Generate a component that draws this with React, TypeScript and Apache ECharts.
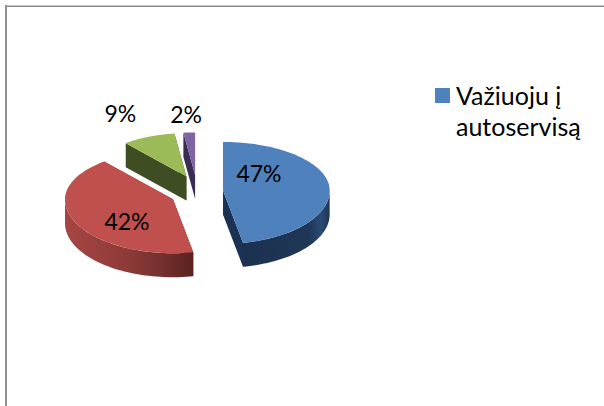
import React, { useEffect, useRef } from "react";
import * as echarts from "echarts";

const sliceValues = [47, 42, 9, 2];
const legendLines = ["Važiuoju į", "autoservisą"];

const topColors = ["#4F81BD", "#C0504D", "#9BBB59", "#8064A2"];
const cutColors = ["#1C3252", "#6B2B29", "#3F4D22", "#3A2C55"];
const wallStops = [
  ["#1E3554", "#2B4B75", "#203858", "#1E3452", "#1C3150"],
  ["#A64644", "#99403D", "#8C3A38", "#74302D", "#5A2220"],
  ["#3F4D22", "#3F4D22", "#3F4D22", "#3F4D22", "#3F4D22"],
  ["#3A2C55", "#3A2C55", "#3A2C55", "#3A2C55", "#3A2C55"],
];
// label offset from each slice's apex, in pixels
const labelOffsets = [
  [36, -17],
  [-46, 22],
  [-66, -63],
  [-9, -61],
];

const FONT = "Lato, Carlito, sans-serif";
const CENTER = [196.8, 192];
const EXPLODE = [26.3, 17];
const RX = 108;
const RY_BACK = 49;
const RY_FRONT = 54;
const DEPTH = 24;
const REAR_SHRINK = 0.13;

const total = sliceValues.reduce((a, b) => a + b, 0);

function renderSlice(params: any, api: any) {
  const i = params.dataIndex;
  const value = api.value(0);
  const before = sliceValues.slice(0, i).reduce((a, b) => a + b, 0);
  const a0 = (before / total) * 360;
  const a1 = a0 + (value / total) * 360;
  const mid = (((a0 + a1) / 2) * Math.PI) / 180;
  const ax = CENTER[0] + EXPLODE[0] * Math.sin(mid);
  const ay = CENTER[1] - EXPLODE[1] * Math.cos(mid);
  const s = 1 - REAR_SHRINK * Math.max(0, Math.cos(mid));
  const pt = (deg: number, down = 0) => {
    const t = (deg * Math.PI) / 180;
    const c = Math.cos(t);
    return [ax + RX * s * Math.sin(t), ay - (c > 0 ? RY_BACK : RY_FRONT) * s * c + down];
  };
  const arc = (from: number, to: number, down = 0) => {
    const out: number[][] = [];
    const n = Math.max(2, Math.ceil(Math.abs(to - from) / 2));
    for (let k = 0; k <= n; k++) out.push(pt(from + ((to - from) * k) / n, down));
    return out;
  };
  const base = (100 - i) * 10;
  const children: any[] = [];
  const edge = (deg: number) => {
    const r = pt(deg);
    children.push({
      type: "polygon",
      z2: base,
      shape: { points: [[ax, ay], r, [r[0], r[1] + DEPTH], [ax, ay + DEPTH]] },
      style: { fill: cutColors[i] },
    });
  };
  edge(a0);
  edge(a1);
  const w0 = Math.max(a0, 90);
  const w1 = Math.min(a1, 270);
  if (w1 > w0) {
    const top = arc(w0, w1);
    const bottom = arc(w1, w0, DEPTH);
    const stops = wallStops[i];
    const leftToRight = stops.map((c: string, k: number) => ({ offset: k / (stops.length - 1), color: c }));
    const colorStops =
      i === 0
        ? [
            { offset: 0, color: "#1C3150" },
            { offset: 0.75, color: "#1F3656" },
            { offset: 0.9, color: "#2B4B75" },
            { offset: 1, color: "#1E3554" },
          ]
        : leftToRight;
    children.push({
      type: "polygon",
      z2: base + 1,
      shape: { points: top.concat(bottom) },
      style: { fill: new echarts.graphic.LinearGradient(0, 0, 1, 0, colorStops) },
    });
  }
  children.push({
    type: "polygon",
    z2: base + 2,
    shape: { points: [[ax, ay]].concat(arc(a0, a1)) },
    style: { fill: topColors[i] },
  });
  const off = labelOffsets[i];
  children.push({
    type: "text",
    z2: 5000,
    style: {
      text: Math.round((value / total) * 100) + "%",
      x: ax + off[0],
      y: ay + off[1],
      fill: "#000",
      font: "23px " + FONT,
      textAlign: "center",
      textVerticalAlign: "middle",
    },
  });
  return { type: "group", children };
}

export default function App() {
  const ref = useRef<HTMLDivElement>(null);
  useEffect(() => {
    const chart = echarts.init(ref.current!, undefined, { renderer: "svg" });
    chart.setOption({
      animation: false,
      backgroundColor: "#fff",
      series: [
        {
          type: "custom",
          coordinateSystem: "none",
          silent: true,
          renderItem: renderSlice,
          data: sliceValues.map((v) => [v]),
        },
      ],
      graphic: [
        { type: "rect", shape: { x: 5, y: 5, width: 599, height: 1 }, style: { fill: "#c4c4c4" } },
        { type: "rect", shape: { x: 5, y: 6, width: 599, height: 1 }, style: { fill: "#8a8a8a" } },
        { type: "rect", shape: { x: 5, y: 5, width: 2, height: 401 }, style: { fill: "#8f8f8f" } },
        { type: "rect", shape: { x: 435, y: 88, width: 15, height: 15 }, style: { fill: topColors[0] } },
        {
          type: "text",
          style: { text: legendLines[0], x: 456, y: 95, fill: "#000", font: "25px " + FONT, textVerticalAlign: "middle" },
        },
        {
          type: "text",
          style: { text: legendLines[1], x: 456, y: 126, fill: "#000", font: "25px " + FONT, textVerticalAlign: "middle" },
        },
      ],
    });
    return () => chart.dispose();
  }, []);
  return <div ref={ref} style={{ position: "absolute", left: 0, top: 0, width: 604, height: 406 }} />;
}
